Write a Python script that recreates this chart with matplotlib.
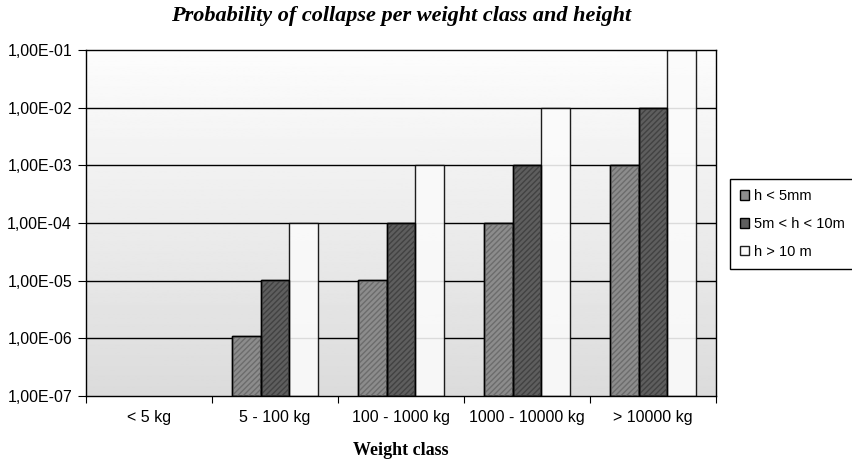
import numpy as np
import matplotlib
matplotlib.use("Agg")
import matplotlib.pyplot as plt
from matplotlib.ticker import FixedLocator, FuncFormatter

categories = ["< 5 kg", "5 - 100 kg", "100 - 1000 kg", "1000 - 10000 kg", "> 10000 kg"]
series_names = ["h < 5mm", "5m < h < 10m", "h > 10 m"]
h_low = [np.nan, 1e-6, 1e-5, 1e-4, 1e-3]
h_mid = [np.nan, 1e-5, 1e-4, 1e-3, 1e-2]
h_high = [np.nan, 1e-4, 1e-3, 1e-2, 1e-1]
y_ticks = [1e-7, 1e-6, 1e-5, 1e-4, 1e-3, 1e-2, 1e-1]

plt.rcParams["font.family"] = ["Liberation Sans", "DejaVu Sans"]

fig = plt.figure(figsize=(8.52, 4.63), dpi=100)
ax = fig.add_axes([86 / 852, 1 - 396 / 463, 630 / 852, 346 / 463])

ymin, ymax = 1e-7, 1e-1
ax.set_yscale("log")

# plot area: white at the top fading to light grey at the bottom
grad = np.linspace(0.99, 0.86, 256).reshape(-1, 1)
ax.imshow(grad, cmap="gray", vmin=0, vmax=1, aspect="auto",
          extent=(0, 1, 0, 1), zorder=0, transform=ax.transAxes)
ax.set_xlim(0, len(categories))
ax.set_ylim(ymin, ymax)

for t in y_ticks[1:-1]:
    ax.axhline(t, color="black", lw=1.0, zorder=1)

x = np.arange(len(categories)) + 0.5
w = 0.23
styles = [
    (h_low, "#8c8c8c", "#6c6c6c", 1.0),
    (h_mid, "#5e5e5e", "#424242", 1.0),
    (h_high, "#fbfbfb", None, 0.88),
]
handles = []
for i, (vals, fc, hc, alpha) in enumerate(styles):
    xpos = x + (i - 1) * w
    b = ax.bar(xpos, vals, width=w, bottom=ymin, color=fc, alpha=alpha,
               edgecolor="black", linewidth=1.0, zorder=2,
               label=series_names[i])
    if hc is not None:
        ax.bar(xpos, vals, width=w, bottom=ymin, color="none",
               edgecolor=hc, hatch="//////", linewidth=0, zorder=3)
        ax.bar(xpos, vals, width=w, bottom=ymin, color="none",
               edgecolor="black", linewidth=1.0, zorder=4)
    handles.append(b)

ax.yaxis.set_major_locator(FixedLocator(y_ticks))
ax.yaxis.set_minor_locator(FixedLocator([]))
ax.yaxis.set_major_formatter(FuncFormatter(
    lambda v, p: ("%.2E" % v).replace(".", ",")))
ax.set_xticks(range(len(categories) + 1))
ax.set_xticklabels([])
ax.set_xticks(x, minor=True)
ax.set_xticklabels(categories, minor=True)
ax.tick_params(axis="x", which="minor", length=0, labelsize=11.5, pad=10)
ax.tick_params(axis="x", which="major", length=5, direction="out")
ax.tick_params(axis="y", length=6, direction="out", labelsize=11.5, pad=4)

for s in ax.spines.values():
    s.set_linewidth(1.0)

ax.set_title("Probability of collapse per weight class and height",
             family="Liberation Serif", fontweight="bold", style="italic",
             fontsize=16, pad=21)
ax.set_xlabel("Weight class", family="Liberation Serif", fontweight="bold",
              fontsize=13, labelpad=12)

leg = fig.legend(handles=handles, loc="upper left",
                 bbox_to_anchor=(730 / 852, 1 - 179 / 463),
                 fancybox=False, edgecolor="black", framealpha=1,
                 fontsize=10.5, handlelength=0.6, handleheight=0.6,
                 handletextpad=0.35, borderpad=0.7, labelspacing=0.95,
                 borderaxespad=0)
leg.get_frame().set_linewidth(1.0)

fig.savefig("out.png", dpi=100)
